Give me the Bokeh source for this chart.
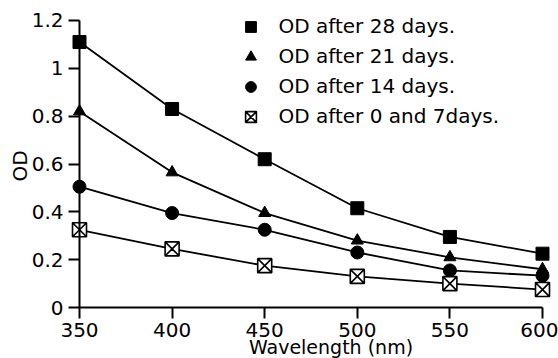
import math
from bokeh.plotting import figure
from bokeh.models import Range1d, FixedTicker, Legend, LegendItem, Label
from bokeh.embed import file_html
from bokeh.resources import INLINE

wavelength = [350, 400, 450, 500, 550, 600]
od_28 = [1.11, 0.83, 0.62, 0.415, 0.295, 0.225]
od_21 = [0.82, 0.565, 0.395, 0.28, 0.21, 0.16]
od_14 = [0.505, 0.395, 0.325, 0.23, 0.155, 0.133]
od_0_7 = [0.325, 0.245, 0.175, 0.13, 0.10, 0.075]

series_labels = ["OD after 28 days.", "OD after 21 days.",
                 "OD after 14 days.", "OD after 0 and 7days."]
x_ticks = [350, 400, 450, 500, 550, 600]
y_ticks = [0, 0.2, 0.4, 0.6, 0.8, 1.0, 1.2]
y_tick_labels = ["0", "0.2", "0.4", "0.6", "0.8", "1", "1.2"]
x_title = "Wavelength (nm)"
y_title = "OD"

FONT = "DejaVu Sans"

p = figure(width=558, height=358, output_backend="svg", toolbar_location=None,
           x_range=Range1d(307.34, 608.64), y_range=Range1d(-0.2132, 1.2836),
           min_border_left=0, min_border_right=0, min_border_top=0,
           min_border_bottom=0)
p.grid.visible = False
p.outline_line_color = None
p.background_fill_color = "white"
p.border_fill_color = "white"

p.xaxis.fixed_location = 0
p.xaxis.bounds = (x_ticks[0], x_ticks[-1])
p.xaxis.ticker = FixedTicker(ticks=x_ticks)
p.yaxis.fixed_location = x_ticks[0]
p.yaxis.bounds = (y_ticks[0], y_ticks[-1])
p.yaxis.ticker = FixedTicker(ticks=y_ticks)
p.yaxis.major_label_overrides = {t: l for t, l in zip(y_ticks, y_tick_labels)}

for ax in (p.xaxis, p.yaxis):
    ax.axis_line_width = 2
    ax.axis_line_color = "black"
    ax.major_tick_line_width = 2
    ax.major_tick_line_color = "black"
    ax.major_tick_out = 11
    ax.major_tick_in = 0
    ax.minor_tick_out = 0
    ax.minor_tick_in = 0
    ax.major_label_text_font = FONT
    ax.major_label_text_font_size = "20px"
    ax.major_label_text_color = "black"
p.xaxis.major_label_standoff = 4
p.yaxis.major_label_standoff = 5

series = [od_28, od_21, od_14, od_0_7]
for s in series:
    p.line(wavelength, s, line_color="black", line_width=1.8)

r28 = p.scatter(wavelength, od_28, marker="square", size=13, color="black")
r21 = p.scatter(wavelength, od_21, marker="triangle", size=12, color="black")
r14 = p.scatter(wavelength, od_14, marker="circle", size=13, color="black")
r07 = p.scatter(wavelength, od_0_7, marker="square_x", size=14,
                fill_color="white", line_color="black", line_width=1.6)

legend = Legend(items=[LegendItem(label=lab, renderers=[r])
                       for lab, r in zip(series_labels, [r28, r21, r14, r07])],
                location=(236.5, 228.5), orientation="vertical",
                glyph_width=27, glyph_height=27, label_height=27, spacing=3,
                padding=0, margin=0, label_standoff=15,
                border_line_color=None, background_fill_alpha=0,
                label_text_font=FONT, label_text_font_size="20px",
                label_text_color="black")
p.add_layout(legend)

p.add_layout(Label(x=(x_ticks[0] + x_ticks[-1]) / 2, y=0, x_offset=20, y_offset=-28,
                   text=x_title, text_align="center", text_baseline="top",
                   text_font=FONT, text_font_size="19px", text_color="black"))
p.add_layout(Label(x=x_ticks[0], y=0.6, x_offset=-60, y_offset=-2,
                   text=y_title, angle=math.pi / 2, text_align="center",
                   text_baseline="middle",
                   text_font=FONT, text_font_size="20px", text_color="black"))

open("out.html", "w").write(file_html(p, INLINE))
